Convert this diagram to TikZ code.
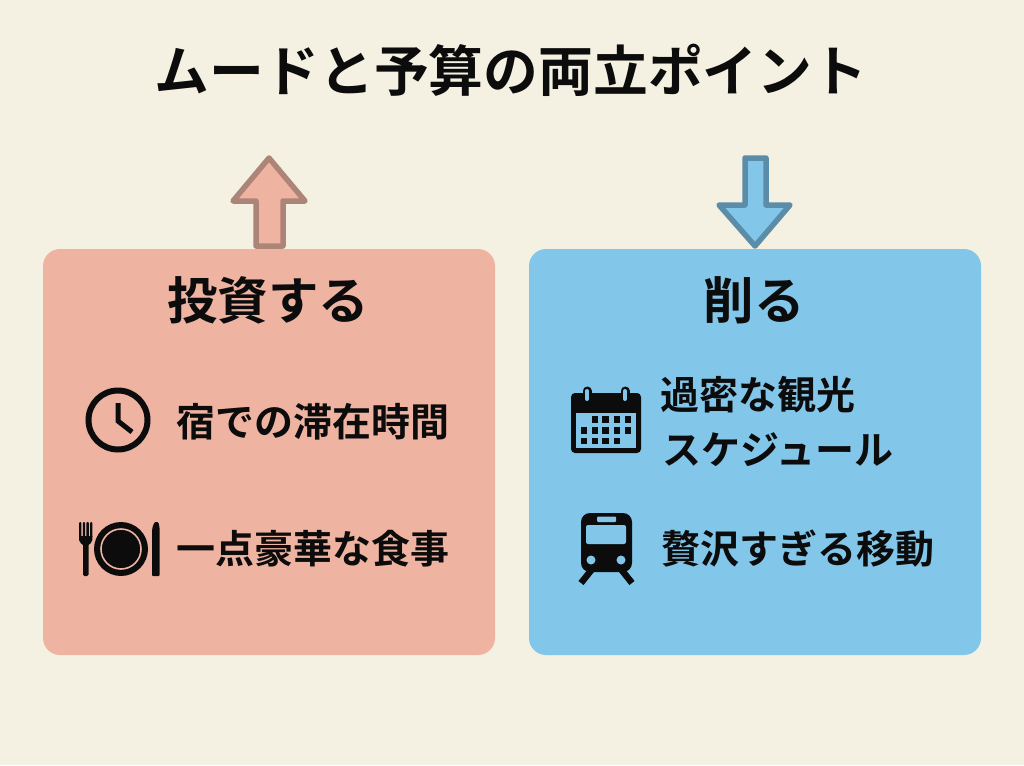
\documentclass[tikz,border=0pt]{standalone}
\usepackage{fontspec}
\newfontfamily\jpm{Noto Sans CJK JP Bold}
\definecolor{bgc}{HTML}{F4F1E2}
\definecolor{pinkc}{HTML}{EFB3A2}
\definecolor{bluec}{HTML}{82C6EA}
\definecolor{pinke}{HTML}{AC8578}
\definecolor{bluee}{HTML}{5C8DA8}
\definecolor{inkc}{HTML}{0C0C0C}
\tikzset{
  panel/.style={fill=#1,rounded corners=17pt},
  arrowshape/.style={line width=5.5pt,line join=round},
  txt/.style={inner sep=0pt,text=inkc,font=\jpm\fontsize{39}{39}\selectfont,anchor=west},
  head/.style={inner sep=0pt,text=inkc,font=\jpm\fontsize{50.5}{50.5}\selectfont},
  icon/.style={fill=inkc,draw=none},
}
\begin{document}
\begin{tikzpicture}[x=1pt,y=-1pt]
\fill[bgc] (0,0) rectangle (1024,765);
\useasboundingbox (0,0) rectangle (1024,765);
\node[inner sep=0pt,text=inkc,font=\jpm\fontsize{54.8}{54.8}\selectfont] (title) at (511,70) {ムードと予算の両立ポイント};
\fill[panel=pinkc] (43,249) rectangle (495,655);
\fill[panel=bluec] (529,249) rectangle (981,655);
% arrows
\draw[arrowshape,fill=pinkc,draw=pinke] (269,158) -- (305,201) -- (283,201) -- (283,246) -- (256,246) -- (256,201) -- (233,201) -- cycle;
\draw[arrowshape,fill=bluec,draw=bluee] (755,246) -- (719,205) -- (745,205) -- (745,158) -- (766,158) -- (766,205) -- (790,205) -- cycle;
% headings
\node[head] (h1) at (268,300) {投資する};
\node[head] (h2) at (754,300) {削る};
% rows
\node[txt] (a) at (176,422) {宿での滞在時間};
\node[txt] (b) at (176,549) {一点豪華な食事};
\node[txt] (c) at (660,395) {過密な観光};
\node[txt] (d) at (662,450) {スケジュール};
\node[txt] (e) at (661,549) {贅沢すぎる移動};
% clock
\draw[inkc,line width=6pt] (118,420) circle (29.5);
\draw[inkc,line width=5pt,line join=miter] (118,403) -- (118,421) -- (132,432);
% fork
\fill[icon,rounded corners=1pt] (79,522) rectangle (81.4,538);
\fill[icon,rounded corners=1pt] (82.8,522) rectangle (85.2,538);
\fill[icon,rounded corners=1pt] (86.4,522) rectangle (88.8,538);
\fill[icon,rounded corners=1pt] (90,522) rectangle (92.4,538);
\fill[icon] (79,536) -- (92.4,536) -- (92.4,540) .. controls (92.4,543) and (89,544) .. (88.5,545) -- (83,545) .. controls (82.5,544) and (79,543) .. (79,540) -- cycle;
\fill[icon,rounded corners=1.5pt] (83,542) rectangle (88.5,576);
% plate
\fill[icon] (121,549) circle (27);
\draw[pinkc,line width=1.6pt] (121,549) circle (20);
% knife
\fill[icon,rounded corners=1pt] (152,576) -- (152,533) .. controls (152,527) and (154,522) .. (156.5,522) .. controls (158.5,522) and (159.5,525) .. (159.5,529) -- (159.5,576) -- cycle;
% calendar
\fill[icon,rounded corners=4pt] (571,393) rectangle (641,453);
\fill[bluec] (576,413) rectangle (636,448);
\foreach \xr in {587,625}{
  \draw[inkc,line width=9pt,line cap=round] (\xr,391) -- (\xr,399);
  \draw[bluec,line width=4pt,line cap=round] (\xr,391) -- (\xr,399);
}
\foreach \xc/\yc in {595/419.5,605.5/419.5,617/419.5,628/419.5,584/430.5,595/430.5,605.5/430.5,617/430.5,628/430.5,584/441,595/441,605.5/441,617/441}{
  \fill[inkc] (\xc-3.3,\yc-3.3) rectangle (\xc+3.3,\yc+3.3);
}
% train
\draw[inkc,line width=6.5pt] (593,568) -- (581,583);
\draw[inkc,line width=6.5pt] (620,568) -- (632,583);
\fill[icon,rounded corners=9pt] (581,513) rectangle (632,572);
\fill[bluec,rounded corners=1pt] (597,516.5) rectangle (616,522);
\fill[bluec,rounded corners=2pt] (586,525) rectangle (626,544);
\fill[bluec] (591,560) circle (4.5);
\fill[bluec] (621,560) circle (4.5);
\end{tikzpicture}
\end{document}
